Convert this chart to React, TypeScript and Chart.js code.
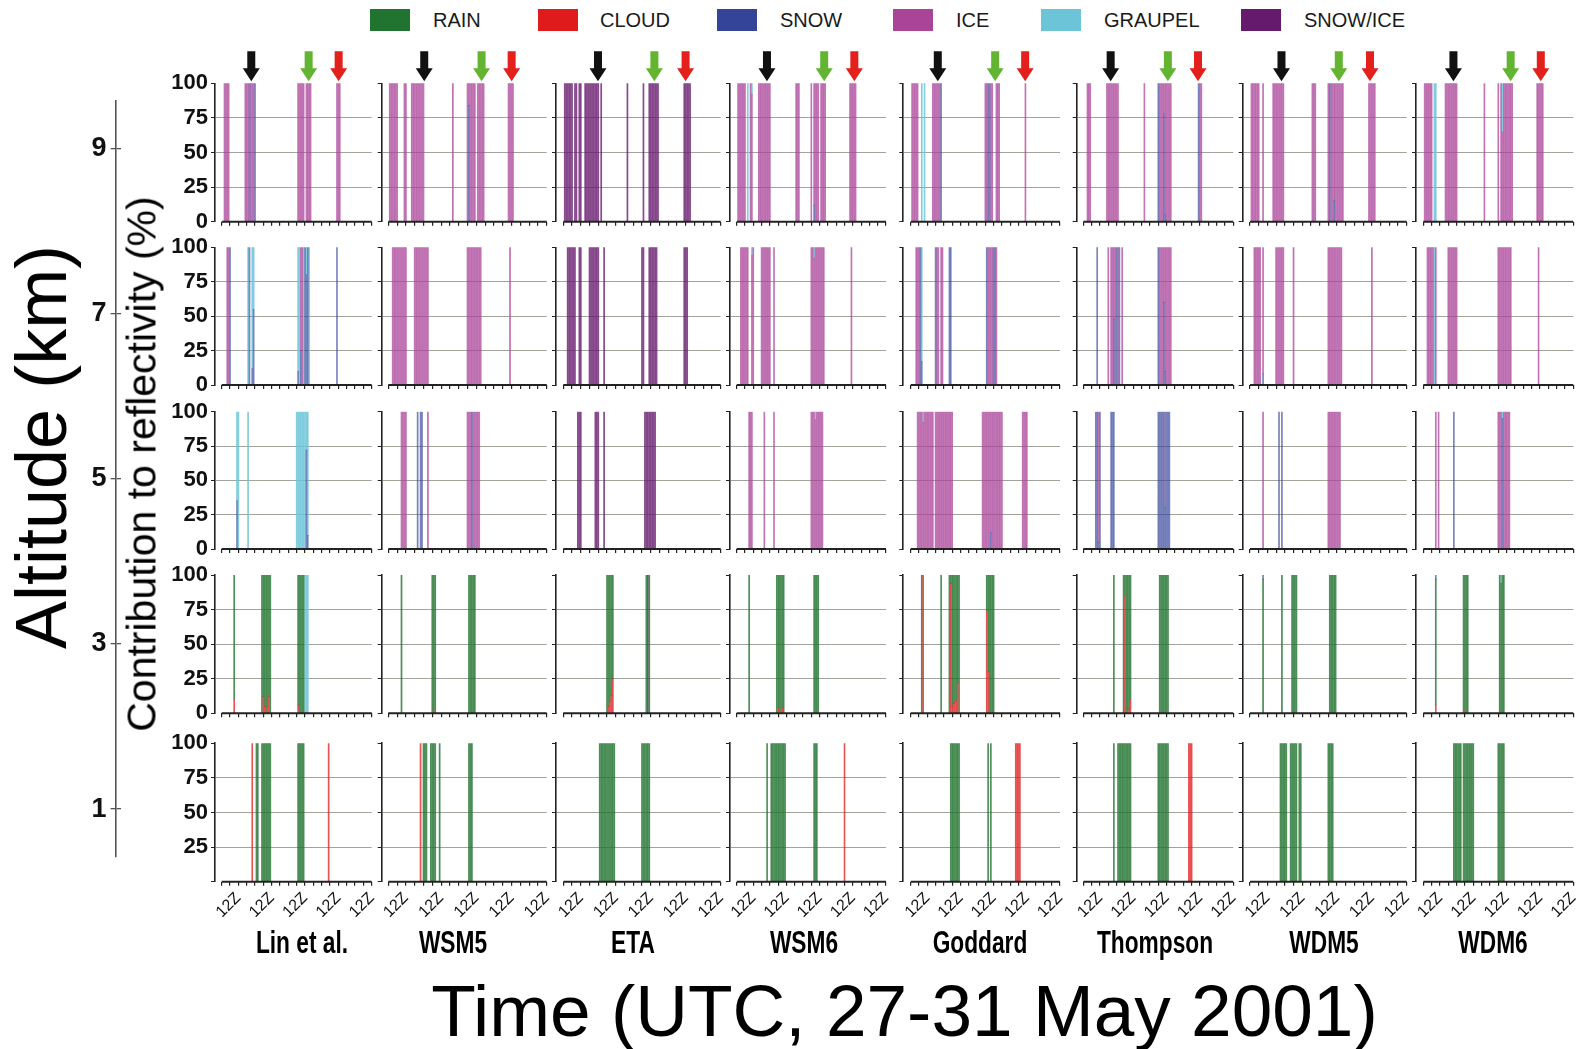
import React, { useEffect, useRef } from 'react';
import { Chart, registerables } from 'chart.js';

Chart.register(...registerables);

type Bar = [number, string, number?];

const SANS = "'Liberation Sans', Arial, Helvetica, sans-serif";
const NARROW = "'Liberation Sans Narrow', 'Arial Narrow', 'Liberation Sans', Arial, sans-serif";

// Hydrometeor classes in legend order
const SPECIES_CODES = ['R', 'C', 'S', 'I', 'G', 'X'];
const SPECIES_NAMES = ['RAIN', 'CLOUD', 'SNOW', 'ICE', 'GRAUPEL', 'SNOW/ICE'];
const SPECIES_COLORS = ['#217330', '#df1b1b', '#334499', '#aa4499', '#6cc4d8', '#661a6e'];
const SPECIES_BAR_FILLS = [
  'rgba(33,115,48,0.8)',
  'rgba(223,27,27,0.75)',
  'rgba(51,68,153,0.66)',
  'rgba(170,68,153,0.74)',
  'rgba(108,196,216,0.85)',
  'rgba(102,26,110,0.78)',
];
// bottom-to-top order of the classes inside one bar
const STACK_ORDER = ['C', 'R', 'S', 'I', 'X', 'G'];

const MODELS = ['Lin et al.', 'WSM5', 'ETA', 'WSM6', 'Goddard', 'Thompson', 'WDM5', 'WDM6'];
const LEVELS_KM = [9, 7, 5, 3, 1];
const ALTITUDE_TICKS_KM = [1, 3, 5, 7, 9];
const HOUR_TICKS = [0, 6, 12, 18, 24, 30, 36, 42, 48, 54, 60, 66, 72, 78, 84, 90, 96, 102, 108];
const HOUR_LABEL = '12Z';
const PCT_TICKS = [0, 25, 50, 75, 100];
const PCT_GRID = [25, 50, 75];

// Event markers, hours after 27 May 00Z, one value per model
const BLACK_ARROW_H = [21.3, 24.5, 23.8, 21.9, 19.6, 19.7, 21.7, 21.7];
const GREEN_ARROW_H = [62.6, 63.6, 62.5, 63.3, 61.1, 60.9, 61.2, 62.9];
const RED_ARROW_H = [84.2, 84.1, 83.9, 85.1, 82.8, 82.6, 82.7, 84.6];

// ---- hourly contributions: [hour after 27 May 00Z, class, percent (100 if omitted)] ----
const LIN_9KM: Bar[] = [
  [2, 'I'], [3, 'I'], [4, 'I'], [5, 'I'],
  [17, 'I'], [18, 'I'], [19, 'I'], [20, 'S'], [21, 'I'], [22, 'I'], [23, 'I'], [24, 'S'],
  [55, 'I'], [56, 'I'], [57, 'I'], [58, 'I'], [59, 'I'],
  [61, 'I'], [62, 'I'], [63, 'I'], [64, 'I'],
  [83, 'I'], [84, 'I'], [85, 'I'],
];
const LIN_7KM: Bar[] = [
  [4, 'I'], [5, 'I'], [6, 'S'],
  [19, 'G'], [20, 'S'], [22, 'S', 12], [22, 'G', 88], [23, 'S', 55], [23, 'G', 45],
  [55, 'S', 10], [55, 'G', 90], [56, 'G'], [57, 'S', 25], [57, 'I', 75], [58, 'I'], [59, 'G'],
  [60, 'S'], [61, 'S', 80], [61, 'G', 20], [62, 'S'], [63, 'G'],
  [83, 'S'],
];
const LIN_5KM: Bar[] = [
  [11, 'S', 35], [11, 'G', 65], [12, 'G'], [19, 'G'],
  [54, 'G'], [55, 'G'], [56, 'G'], [57, 'G'], [58, 'G'], [59, 'G'], [60, 'G'],
  [61, 'S', 72], [61, 'G', 28], [62, 'S', 10], [62, 'G', 90],
];
const LIN_3KM: Bar[] = [
  [9, 'C', 10], [9, 'R', 90],
  [29, 'R'], [30, 'C', 12], [30, 'R', 88], [31, 'C', 5], [31, 'R', 95], [32, 'R'],
  [33, 'C', 5], [33, 'R', 95], [34, 'C', 12], [34, 'R', 88], [35, 'R'],
  [55, 'C', 6], [55, 'R', 94], [56, 'R'], [57, 'R'], [58, 'R'], [59, 'R'],
  [60, 'G'], [61, 'G'], [62, 'G'],
];
const LIN_1KM: Bar[] = [
  [22, 'C'], [25, 'R'], [26, 'R'],
  [29, 'R'], [30, 'R'], [31, 'R'], [32, 'R'], [33, 'R'], [34, 'R'], [35, 'R'],
  [55, 'R'], [56, 'R'], [57, 'R'], [58, 'R'], [59, 'R'],
  [77, 'C'],
];

const WSM5_9KM: Bar[] = [
  [1, 'I'], [2, 'I'], [3, 'I'], [4, 'I'], [5, 'I'], [6, 'I'], [11, 'I'], [12, 'I'],
  [16, 'I'], [17, 'I'], [18, 'I'], [19, 'I'], [20, 'I'], [21, 'I'], [22, 'I'], [23, 'I'], [24, 'I'],
  [44, 'I'],
  [54, 'I'], [55, 'S', 84], [55, 'I', 16], [56, 'I'], [57, 'I'], [58, 'I'], [59, 'I'],
  [61, 'I'], [62, 'I'], [63, 'I'], [64, 'I'], [65, 'I'],
  [82, 'I'], [83, 'I'], [84, 'I'], [85, 'I'],
];
const WSM5_7KM: Bar[] = [
  [3, 'I'], [4, 'I'], [5, 'I'], [6, 'I'], [7, 'I'], [8, 'I'], [9, 'I'], [10, 'I'], [11, 'I'], [12, 'I'],
  [18, 'I'], [19, 'I'], [20, 'I'], [21, 'I'], [22, 'I'], [23, 'I'], [24, 'I'], [25, 'I'], [26, 'I'], [27, 'I'],
  [54, 'I'], [55, 'I'], [56, 'I'], [57, 'I'], [58, 'I'], [59, 'I'], [60, 'I'], [61, 'I'], [62, 'I'], [63, 'I'],
  [83, 'I'],
];
const WSM5_5KM: Bar[] = [
  [9, 'I'], [10, 'I'], [11, 'I'], [12, 'I'], [20, 'S'], [22, 'S'], [23, 'S'], [27, 'I'],
  [54, 'I'], [55, 'I'], [56, 'I'], [57, 'S'], [58, 'I'], [59, 'I'], [60, 'I'], [61, 'I'], [62, 'I'],
];
const WSM5_3KM: Bar[] = [
  [9, 'R'], [30, 'R'], [31, 'C', 3], [31, 'R', 97], [32, 'R'],
  [55, 'R'], [56, 'R'], [57, 'R'], [58, 'R'], [59, 'R'],
];
const WSM5_1KM: Bar[] = [
  [22, 'C'], [24, 'R'], [25, 'R'], [26, 'R'], [29, 'R'], [30, 'R'], [31, 'R'], [32, 'R'], [35, 'R'],
  [55, 'R'], [56, 'R'], [57, 'R'],
];

const ETA_9KM: Bar[] = [
  [1, 'X'], [2, 'X'], [3, 'X'], [4, 'X'], [5, 'X'], [6, 'X'], [8, 'X'], [9, 'X'], [11, 'X'], [12, 'X'],
  [15, 'X'], [16, 'X'], [17, 'X'], [18, 'X'], [19, 'X'], [20, 'X'], [21, 'X'], [22, 'X'], [23, 'X'], [24, 'X'],
  [26, 'X'], [44, 'X'], [55, 'X'],
  [59, 'X'], [60, 'X'], [61, 'X'], [62, 'X'], [63, 'X'], [64, 'X'], [65, 'X'],
  [83, 'X'], [84, 'X'], [85, 'X'], [86, 'X'], [87, 'X'],
];
const ETA_7KM: Bar[] = [
  [3, 'X'], [4, 'X'], [5, 'X'], [6, 'X'], [7, 'X'], [8, 'X'], [11, 'X'], [12, 'X'],
  [18, 'X'], [19, 'X'], [20, 'X'], [21, 'X'], [22, 'X'], [23, 'X'], [24, 'X'], [28, 'X'],
  [54, 'X'], [55, 'X'], [59, 'X'], [60, 'X'], [61, 'X'], [62, 'X'], [63, 'X'], [64, 'X'],
  [83, 'X'], [84, 'X'], [85, 'X'],
];
const ETA_5KM: Bar[] = [
  [10, 'X'], [11, 'X'], [12, 'X'], [22, 'X'], [23, 'X'], [24, 'X'], [28, 'X'],
  [56, 'X'], [57, 'X'], [58, 'X'], [59, 'X'], [60, 'X'], [61, 'X'], [62, 'X'], [63, 'X'],
];
const ETA_3KM: Bar[] = [
  [30, 'R'], [31, 'C', 5], [31, 'R', 95], [32, 'C', 9], [32, 'R', 91], [33, 'C', 13], [33, 'R', 87],
  [34, 'C', 25], [34, 'R', 75],
  [57, 'R'], [58, 'X'], [59, 'R'],
];
const ETA_1KM: Bar[] = [
  [25, 'R'], [26, 'R'], [27, 'R'], [28, 'R'], [29, 'R'], [30, 'R'], [31, 'R'], [32, 'R'], [33, 'R'], [34, 'R'], [35, 'R'],
  [54, 'R'], [55, 'R'], [56, 'R'], [57, 'R'], [58, 'R'], [59, 'R'],
];

const WSM6_9KM: Bar[] = [
  [1, 'I'], [2, 'I'], [3, 'I'], [4, 'I'], [5, 'I'], [6, 'I'], [8, 'G'], [10, 'I'], [11, 'I', 92], [11, 'G', 8],
  [16, 'I'], [17, 'I'], [18, 'I'], [19, 'I'], [20, 'I'], [21, 'I'], [22, 'I'], [23, 'I'], [24, 'I'],
  [43, 'I'], [44, 'I'], [45, 'I'],
  [54, 'I'], [56, 'S', 12], [56, 'I', 88], [57, 'I'], [58, 'I'], [59, 'I'],
  [61, 'I'], [62, 'I'], [63, 'I'], [64, 'I'],
  [82, 'I'], [83, 'I'], [84, 'I'], [85, 'I'], [86, 'I'],
];
const WSM6_7KM: Bar[] = [
  [3, 'I'], [4, 'I'], [5, 'I'], [6, 'I'], [7, 'I'], [8, 'I'], [11, 'I', 94], [11, 'G', 6], [12, 'I'],
  [18, 'I'], [19, 'I'], [20, 'I'], [21, 'I'], [22, 'I'], [23, 'I'], [24, 'I'], [27, 'I'],
  [54, 'I'], [55, 'I'], [56, 'I', 92], [56, 'G', 8], [57, 'I'], [58, 'I'], [59, 'I'], [60, 'I'], [61, 'I'], [62, 'I'], [63, 'I'],
  [83, 'I'],
];
const WSM6_5KM: Bar[] = [
  [9, 'I'], [10, 'I'], [11, 'I'], [20, 'I'], [27, 'I'],
  [54, 'I'], [55, 'I'], [56, 'I'], [57, 'I', 94], [57, 'G', 6], [58, 'I'], [59, 'I'], [60, 'I'], [61, 'I'], [62, 'I'],
];
const WSM6_3KM: Bar[] = [
  [9, 'R'], [29, 'R'], [30, 'C', 4], [30, 'R', 96], [31, 'R'], [32, 'R'], [33, 'C', 4], [33, 'R', 96], [34, 'R'],
  [56, 'R'], [57, 'R'], [58, 'R'], [59, 'R'],
];
const WSM6_1KM: Bar[] = [
  [22, 'R'], [25, 'R'], [26, 'R'], [27, 'R'], [28, 'R'], [29, 'R'], [30, 'R'], [31, 'R'], [32, 'R'], [33, 'R'], [34, 'R'], [35, 'R'],
  [56, 'R'], [57, 'R'], [58, 'R'], [78, 'C'],
];

const GODDARD_9KM: Bar[] = [
  [1, 'I'], [2, 'I'], [3, 'I'], [4, 'I'], [5, 'I'], [8, 'G'], [10, 'G'],
  [16, 'I'], [17, 'I'], [18, 'I'], [19, 'I'], [20, 'I'], [21, 'I'], [22, 'S'],
  [54, 'I'], [55, 'I'], [56, 'S'], [57, 'S'], [58, 'I'], [59, 'I'], [62, 'I'], [63, 'I'], [64, 'I'],
  [83, 'I'],
];
const GODDARD_7KM: Bar[] = [
  [4, 'I'], [5, 'I'], [6, 'I'], [7, 'S'], [8, 'S', 17], [8, 'G', 83],
  [18, 'S'], [19, 'I'], [20, 'I'], [22, 'I'], [23, 'I'], [28, 'S'], [29, 'S'],
  [55, 'S'], [56, 'I'], [57, 'I'], [58, 'I'], [59, 'I'], [60, 'S'], [61, 'S'], [62, 'I'],
];
const GODDARD_5KM: Bar[] = [
  [5, 'I'], [6, 'I'], [7, 'I'], [8, 'I'], [9, 'I', 92], [9, 'G', 8], [10, 'I'], [11, 'I'], [12, 'I'], [13, 'I'], [14, 'I'], [15, 'I'], [16, 'I'],
  [18, 'I'], [19, 'I'], [20, 'I'], [21, 'I'], [22, 'I'], [23, 'I'], [24, 'I'], [25, 'I'], [26, 'I'], [27, 'I'], [28, 'I'], [29, 'I'], [30, 'I'],
  [52, 'I'], [53, 'I'], [54, 'I'], [55, 'I'], [56, 'I'], [57, 'I'], [58, 'S', 12], [58, 'I', 88], [59, 'I'],
  [60, 'I'], [61, 'I'], [62, 'I'], [63, 'I'], [64, 'I'], [65, 'I'], [66, 'I'],
  [81, 'I'], [82, 'I'], [83, 'I'], [84, 'I'],
];
const GODDARD_3KM: Bar[] = [
  [8, 'R'], [9, 'C'], [22, 'R'],
  [28, 'R'], [29, 'C', 94], [29, 'R', 6], [30, 'C', 5], [30, 'R', 95], [31, 'C', 7], [31, 'R', 93],
  [32, 'C', 8], [32, 'R', 92], [33, 'C', 9], [33, 'R', 91], [34, 'C', 22], [34, 'R', 78], [35, 'R'],
  [55, 'C', 74], [55, 'R', 26], [56, 'C', 30], [56, 'R', 70], [57, 'R'], [58, 'R'], [59, 'R'], [60, 'R'],
];
const GODDARD_1KM: Bar[] = [
  [29, 'R'], [30, 'R'], [31, 'R'], [32, 'R'], [33, 'R'], [34, 'R'], [35, 'R'],
  [56, 'R'], [58, 'R'], [76, 'C'], [77, 'C'], [78, 'C'], [79, 'C'],
];

const THOMPSON_9KM: Bar[] = [
  [3, 'I'], [4, 'I'], [5, 'I'],
  [17, 'I'], [18, 'I'], [19, 'I'], [20, 'I'], [21, 'I'], [22, 'I'], [23, 'I'], [24, 'I'], [25, 'I'],
  [44, 'I'],
  [54, 'S'], [55, 'I'], [56, 'I'], [57, 'I'], [58, 'S', 78], [58, 'I', 22], [59, 'S', 5], [59, 'I', 95],
  [60, 'I'], [61, 'I'], [62, 'I'], [63, 'I'],
  [83, 'S'], [84, 'I'], [85, 'I'],
];
const THOMPSON_7KM: Bar[] = [
  [10, 'S'], [18, 'I'], [20, 'I'], [21, 'I'], [22, 'S', 48], [22, 'I', 52], [23, 'I'], [24, 'S'], [25, 'I'], [26, 'S'], [28, 'I'],
  [54, 'S'], [55, 'I'], [56, 'I'], [57, 'I'], [58, 'S', 60], [58, 'I', 40], [59, 'S', 10], [59, 'I', 90],
  [60, 'I'], [61, 'I'], [62, 'I'], [63, 'I'],
];
const THOMPSON_5KM: Bar[] = [
  [9, 'S'], [10, 'S'], [11, 'S', 5], [11, 'I', 95], [12, 'S'], [20, 'S'], [21, 'S'], [22, 'S'],
  [54, 'S'], [55, 'S'], [56, 'S'], [57, 'S'], [58, 'S'], [59, 'S', 30], [59, 'I', 70], [60, 'S'], [61, 'S'], [62, 'S'],
];
const THOMPSON_3KM: Bar[] = [
  [22, 'R'], [29, 'R'], [30, 'C', 85], [30, 'R', 15], [31, 'R'], [32, 'C', 3], [32, 'R', 97],
  [33, 'C', 3], [33, 'R', 97], [34, 'C', 10], [34, 'R', 90],
  [55, 'R'], [56, 'R'], [57, 'R'], [58, 'R'], [59, 'R'], [60, 'R'], [61, 'R'],
];
const THOMPSON_1KM: Bar[] = [
  [22, 'R'], [25, 'R'], [26, 'R'], [27, 'R'], [28, 'R'], [29, 'R'], [30, 'R'], [31, 'R'], [32, 'R'], [33, 'R'], [34, 'R'],
  [54, 'R'], [55, 'R'], [56, 'R'], [57, 'R'], [58, 'R'], [59, 'R'], [60, 'R'], [61, 'R'],
  [76, 'C'], [77, 'C'], [78, 'C'],
];

const WDM5_9KM: Bar[] = [
  [1, 'I'], [2, 'I'], [3, 'I'], [4, 'I'], [5, 'I'], [6, 'I'], [9, 'I'],
  [16, 'I'], [17, 'I'], [18, 'I'], [19, 'I'], [20, 'I'], [21, 'I'], [22, 'I'], [23, 'I'],
  [43, 'I'], [44, 'I'], [45, 'I'],
  [54, 'I'], [55, 'S'], [56, 'I'], [57, 'I'], [58, 'S', 15], [58, 'I', 85], [59, 'I'], [60, 'I'], [61, 'I'], [62, 'I'], [63, 'I'], [64, 'I'],
  [82, 'I'], [83, 'I'], [84, 'I'], [85, 'I'], [86, 'I'],
];
const WDM5_7KM: Bar[] = [
  [3, 'I'], [4, 'I'], [5, 'I'], [6, 'I'], [7, 'I'], [9, 'S', 8], [9, 'I', 92],
  [18, 'I'], [19, 'I'], [20, 'I'], [21, 'I'], [22, 'I'], [23, 'I'], [30, 'I'],
  [54, 'I'], [55, 'I'], [56, 'I'], [57, 'I'], [58, 'I'], [59, 'I'], [60, 'I'], [61, 'I'], [62, 'I'], [63, 'I'],
  [84, 'I'],
];
const WDM5_5KM: Bar[] = [
  [9, 'I'], [20, 'S'], [22, 'S'],
  [54, 'I'], [55, 'I'], [56, 'I'], [57, 'I'], [58, 'I'], [59, 'I'], [60, 'I'], [61, 'I'], [62, 'I'],
];
const WDM5_3KM: Bar[] = [
  [9, 'R', 97], [9, 'S', 3], [22, 'R'], [29, 'R'], [30, 'R'], [31, 'R'], [32, 'R'],
  [55, 'R'], [56, 'R'], [57, 'R'], [58, 'R'], [59, 'R'],
];
const WDM5_1KM: Bar[] = [
  [21, 'R'], [22, 'R'], [23, 'R'], [24, 'R'], [25, 'R'],
  [28, 'R'], [29, 'R'], [30, 'R'], [31, 'R'], [32, 'R'], [34, 'R'], [35, 'R'],
  [54, 'R'], [55, 'R'], [56, 'R'], [57, 'R'],
];

const WDM6_9KM: Bar[] = [
  [1, 'I'], [2, 'I'], [3, 'I'], [4, 'I'], [5, 'I'], [6, 'I'], [8, 'G'], [9, 'G'],
  [16, 'I'], [17, 'I'], [18, 'I'], [19, 'I'], [20, 'I'], [21, 'I'], [22, 'I'], [23, 'I'], [24, 'I'],
  [44, 'I'],
  [54, 'I'], [56, 'I'], [57, 'I', 65], [57, 'G', 35], [58, 'I'], [59, 'I'], [60, 'I'], [61, 'I'], [62, 'I'], [63, 'I'], [64, 'I'],
  [82, 'I'], [83, 'I'], [84, 'I'], [85, 'I'], [86, 'I'],
];
const WDM6_7KM: Bar[] = [
  [3, 'I'], [4, 'I'], [5, 'I'], [6, 'I'], [7, 'I'], [8, 'G'], [9, 'I'],
  [18, 'I'], [19, 'I'], [20, 'I'], [21, 'I'], [22, 'I'], [23, 'I'], [24, 'I'],
  [54, 'I'], [55, 'I'], [56, 'I'], [57, 'I'], [58, 'I'], [59, 'I'], [60, 'I'], [61, 'I'], [62, 'I'], [63, 'I'],
  [83, 'I'],
];
const WDM6_5KM: Bar[] = [
  [9, 'I'], [11, 'I'], [22, 'S'],
  [54, 'I'], [55, 'I'], [56, 'I'], [57, 'S', 95], [57, 'G', 5], [58, 'I'], [59, 'I'], [60, 'I'], [61, 'I'], [62, 'I'],
];
const WDM6_3KM: Bar[] = [
  [9, 'C', 6], [9, 'R', 91], [9, 'S', 3],
  [29, 'R'], [30, 'C', 2], [30, 'R', 98], [31, 'R'], [32, 'R'],
  [55, 'R'], [56, 'R', 94], [56, 'G', 6], [57, 'R'], [58, 'R'],
];
const WDM6_1KM: Bar[] = [
  [22, 'R'], [23, 'R'], [24, 'R'], [25, 'R'], [26, 'R'], [27, 'R'],
  [29, 'R'], [30, 'R'], [31, 'R'], [32, 'R'], [33, 'R'], [34, 'R'], [35, 'R'], [36, 'R'],
  [54, 'R'], [55, 'R'], [56, 'R'], [57, 'R'], [58, 'R'],
];

// panels indexed [model][level]
const PANEL_BARS: Bar[][][] = [
  [LIN_9KM, LIN_7KM, LIN_5KM, LIN_3KM, LIN_1KM],
  [WSM5_9KM, WSM5_7KM, WSM5_5KM, WSM5_3KM, WSM5_1KM],
  [ETA_9KM, ETA_7KM, ETA_5KM, ETA_3KM, ETA_1KM],
  [WSM6_9KM, WSM6_7KM, WSM6_5KM, WSM6_3KM, WSM6_1KM],
  [GODDARD_9KM, GODDARD_7KM, GODDARD_5KM, GODDARD_3KM, GODDARD_1KM],
  [THOMPSON_9KM, THOMPSON_7KM, THOMPSON_5KM, THOMPSON_3KM, THOMPSON_1KM],
  [WDM5_9KM, WDM5_7KM, WDM5_5KM, WDM5_3KM, WDM5_1KM],
  [WDM6_9KM, WDM6_7KM, WDM6_5KM, WDM6_3KM, WDM6_1KM],
];

// ---- page layout (pixels) ----
const COL_AXIS_X = [215, 381.7, 556, 730, 903.3, 1076.7, 1242.7, 1416];
const COL_T0_X = [221.7, 388.3, 563.3, 736.7, 910.7, 1083.3, 1250, 1423.3];
const COL_T1_X = [371.7, 546.7, 720.7, 886, 1060, 1233.3, 1406.7, 1573.3];
const ROW_TOP_Y = [83.3, 247.3, 411.7, 575, 743.3];
const ROW_BASE_Y = [221.7, 385, 549, 713.3, 881.7];
const MODEL_LABEL_X = [302, 452.5, 632.5, 804, 980, 1154.5, 1324, 1492.5];
const LEGEND_BOX_X = [370, 538, 717, 893, 1041, 1241];
const LEGEND_TEXT_X = [433, 600, 780, 956, 1104, 1304];

const HOUR_MIN = 0;
const HOUR_MAX = 108;
const PAGE_W = 1576;
const PAGE_H = 1049;

// altitude axis on the far left
const ALT_AXIS_X = 115.6;
const ALT_AXIS_TOP = 100.5;
const ALT_AXIS_BOTTOM = 857;
const ALT_MIN_KM = 0.42;
const ALT_MAX_KM = 9.585;

function speciesIndex(code: string) {
  return SPECIES_CODES.indexOf(code);
}

function drawArrow(ctx: CanvasRenderingContext2D, x: number, tipY: number, color: string) {
  const total = 30;
  const headH = 13;
  const headW = 17;
  const shaftW = 8;
  const topY = tipY - total;
  ctx.save();
  ctx.beginPath();
  ctx.moveTo(x - shaftW / 2, topY);
  ctx.lineTo(x + shaftW / 2, topY);
  ctx.lineTo(x + shaftW / 2, tipY - headH);
  ctx.lineTo(x + headW / 2, tipY - headH);
  ctx.lineTo(x, tipY);
  ctx.lineTo(x - headW / 2, tipY - headH);
  ctx.lineTo(x - shaftW / 2, tipY - headH);
  ctx.closePath();
  ctx.fillStyle = color;
  ctx.fill();
  ctx.restore();
}

function Panel({ col, row }: { col: number; row: number }) {
  const ref = useRef<HTMLCanvasElement | null>(null);
  const L = COL_AXIS_X[col];
  const x0 = COL_T0_X[col];
  const x1 = COL_T1_X[col];
  const T = ROW_TOP_Y[row];
  const B = ROW_BASE_Y[row];
  const isLeft = col === 0;
  const isBottom = row === LEVELS_KM.length - 1;
  const isTop = row === 0;
  const left = Math.floor(L - (isLeft ? 62 : 10));
  const right = Math.min(PAGE_W, Math.ceil(x1 + 6));
  const top = Math.floor(T - (isTop ? 40 : 12));
  const bottom = Math.ceil(B + (isBottom ? 48 : 10));
  const W = right - left;
  const H = bottom - top;

  useEffect(() => {
    const canvas = ref.current;
    if (!canvas) return;
    const pxPerHour = (x1 - x0) / (HOUR_MAX - HOUR_MIN);
    const xMin = HOUR_MIN - (x0 - L) / pxPerHour;
    const bars = PANEL_BARS[col][row];

    const datasets = STACK_ORDER.map((code) => {
      const si = speciesIndex(code);
      return {
        label: SPECIES_NAMES[si],
        data: bars.filter((b) => b[1] === code).map((b) => ({ x: b[0], y: b[2] ?? 100 })),
        backgroundColor: SPECIES_BAR_FILLS[si],
        borderWidth: 0,
        barThickness: pxPerHour * 0.72,
      };
    });

    const timeAxisLine = {
      id: 'timeAxisLine',
      afterDraw(chart: any) {
        const { ctx, chartArea, scales } = chart;
        const xs = scales.x;
        ctx.save();
        ctx.strokeStyle = '#222';
        ctx.lineWidth = 2;
        ctx.beginPath();
        ctx.moveTo(xs.getPixelForValue(HOUR_MIN), chartArea.bottom);
        ctx.lineTo(xs.getPixelForValue(HOUR_MAX), chartArea.bottom);
        ctx.stroke();
        ctx.restore();
      },
    };

    const eventArrows = {
      id: 'eventArrows',
      afterDraw(chart: any) {
        if (!isTop) return;
        const { ctx, chartArea, scales } = chart;
        const tip = chartArea.top - 2;
        drawArrow(ctx, scales.x.getPixelForValue(BLACK_ARROW_H[col]), tip, '#111111');
        drawArrow(ctx, scales.x.getPixelForValue(GREEN_ARROW_H[col]), tip, '#63b531');
        drawArrow(ctx, scales.x.getPixelForValue(RED_ARROW_H[col]), tip, '#e3201b');
      },
    };

    const chart = new Chart(canvas, {
      type: 'bar',
      data: { datasets: datasets as any },
      options: {
        animation: false,
        responsive: false,
        maintainAspectRatio: false,
        events: [],
        layout: { padding: { left: 0, right: right - x1, top: T - top, bottom: 0 } },
        plugins: { legend: { display: false }, tooltip: { enabled: false }, title: { display: false } },
        scales: {
          x: {
            type: 'linear',
            min: xMin,
            max: HOUR_MAX,
            offset: false,
            stacked: true,
            afterBuildTicks: (s: any) => {
              s.ticks = HOUR_TICKS.map((v) => ({ value: v }));
            },
            afterFit: (s: any) => {
              s.height = bottom - B;
              s.paddingLeft = 0;
              s.paddingRight = 0;
            },
            grid: {
              offset: false,
              drawOnChartArea: false,
              drawTicks: true,
              tickLength: 4,
              color: '#222',
              lineWidth: 1.2,
            },
            border: { display: false },
            ticks: {
              display: isBottom,
              autoSkip: false,
              minRotation: 45,
              maxRotation: 45,
              padding: 3,
              color: '#111',
              font: { family: NARROW, size: 16 },
              callback: (v: any) => (Number(v) % 24 === 12 ? HOUR_LABEL : ''),
            },
          },
          y: {
            min: 0,
            max: 100,
            stacked: true,
            afterBuildTicks: (s: any) => {
              s.ticks = PCT_TICKS.map((v) => ({ value: v }));
            },
            afterFit: (s: any) => {
              s.width = L - left;
              s.paddingTop = 0;
              s.paddingBottom = 0;
            },
            grid: {
              drawTicks: true,
              tickLength: 4,
              color: (ctx: any) => (ctx.tick && PCT_GRID.includes(ctx.tick.value) ? '#a3a39c' : 'rgba(0,0,0,0)'),
              tickColor: '#222',
              lineWidth: 1,
            },
            border: { display: true, color: '#222', width: 1.6 },
            ticks: {
              display: isLeft,
              padding: 3,
              color: '#111',
              font: { family: NARROW, size: 22, weight: 'bold' },
              callback: (v: any) => (isBottom && Number(v) === 0 ? '' : String(v)),
            },
          },
        },
      } as any,
      plugins: [timeAxisLine, eventArrows],
    });
    return () => chart.destroy();
  }, [col, row]);

  return (
    <canvas
      ref={ref}
      width={W}
      height={H}
      style={{ position: 'absolute', left, top, width: W, height: H }}
    />
  );
}

function AltitudeAxis() {
  const ref = useRef<HTMLCanvasElement | null>(null);
  const left = 70;
  const right = Math.ceil(ALT_AXIS_X + 5);
  const top = Math.floor(ALT_AXIS_TOP - 20);
  const bottom = Math.ceil(ALT_AXIS_BOTTOM + 20);
  const W = right - left;
  const H = bottom - top;
  useEffect(() => {
    const canvas = ref.current;
    if (!canvas) return;
    const chart = new Chart(canvas, {
      type: 'scatter',
      data: { datasets: [] },
      options: {
        animation: false,
        responsive: false,
        maintainAspectRatio: false,
        events: [],
        layout: { padding: { left: 0, right: 0, top: ALT_AXIS_TOP - top, bottom: bottom - ALT_AXIS_BOTTOM } },
        plugins: { legend: { display: false }, tooltip: { enabled: false } },
        scales: {
          x: { display: false, min: 0, max: 1 },
          y: {
            min: ALT_MIN_KM,
            max: ALT_MAX_KM,
            afterBuildTicks: (s: any) => {
              s.ticks = ALTITUDE_TICKS_KM.map((v) => ({ value: v }));
            },
            afterFit: (s: any) => {
              s.width = ALT_AXIS_X - left;
              s.paddingTop = 0;
              s.paddingBottom = 0;
            },
            grid: { drawOnChartArea: true, drawTicks: true, tickLength: 5, color: '#555', lineWidth: 1.3 },
            border: { display: true, color: '#555', width: 1.6 },
            ticks: { padding: 4, color: '#111', font: { family: NARROW, size: 27, weight: 'bold' } },
          },
        },
      } as any,
    });
    return () => chart.destroy();
  }, []);
  return (
    <canvas ref={ref} width={W} height={H} style={{ position: 'absolute', left, top, width: W, height: H }} />
  );
}

function Legend() {
  return (
    <>
      {SPECIES_NAMES.map((name, i) => (
        <React.Fragment key={name}>
          <div
            style={{
              position: 'absolute',
              left: LEGEND_BOX_X[i],
              top: 9,
              width: 40,
              height: 22,
              background: SPECIES_COLORS[i],
            }}
          />
          <div
            style={{
              position: 'absolute',
              left: LEGEND_TEXT_X[i],
              top: 9,
              height: 22,
              lineHeight: '22px',
              font: `20px ${SANS}`,
              color: '#1a1a1a',
              whiteSpace: 'nowrap',
            }}
          >
            {name}
          </div>
        </React.Fragment>
      ))}
    </>
  );
}

export default function App() {
  const panels: JSX.Element[] = [];
  for (let c = 0; c < MODELS.length; c++) {
    for (let r = 0; r < LEVELS_KM.length; r++) {
      panels.push(<Panel key={`${c}-${r}`} col={c} row={r} />);
    }
  }
  return (
    <div
      style={{
        position: 'absolute',
        left: 0,
        top: 0,
        width: PAGE_W,
        height: PAGE_H,
        overflow: 'hidden',
        background: '#ffffff',
        fontFamily: SANS,
      }}
    >
      <Legend />
      <AltitudeAxis />
      {panels}
      <div
        style={{
          position: 'absolute',
          left: 41,
          top: 447,
          transform: 'translate(-50%, -50%) rotate(-90deg)',
          font: `72px ${SANS}`,
          lineHeight: 1,
          whiteSpace: 'nowrap',
          color: '#000',
        }}
      >
        Altitude (km)
      </div>
      <div
        style={{
          position: 'absolute',
          left: 142,
          top: 464,
          transform: 'translate(-50%, -50%) rotate(-90deg)',
          font: `41px ${SANS}`,
          lineHeight: 1,
          whiteSpace: 'nowrap',
          color: '#000',
        }}
      >
        Contribution to reflectivity (%)
      </div>
      {MODELS.map((m, i) => (
        <div
          key={m}
          style={{
            position: 'absolute',
            left: MODEL_LABEL_X[i] - 100,
            top: 926,
            width: 200,
            textAlign: 'center',
            font: `bold 32px ${SANS}`,
            lineHeight: 1,
            whiteSpace: 'nowrap',
            transform: 'scaleX(0.71)',
            color: '#000',
          }}
        >
          {m}
        </div>
      ))}
      <div
        style={{
          position: 'absolute',
          left: 904.5 - 700,
          top: 974,
          width: 1400,
          textAlign: 'center',
          font: `73px ${SANS}`,
          lineHeight: 1,
          whiteSpace: 'nowrap',
          color: '#000',
        }}
      >
        Time (UTC, 27-31 May 2001)
      </div>
    </div>
  );
}
